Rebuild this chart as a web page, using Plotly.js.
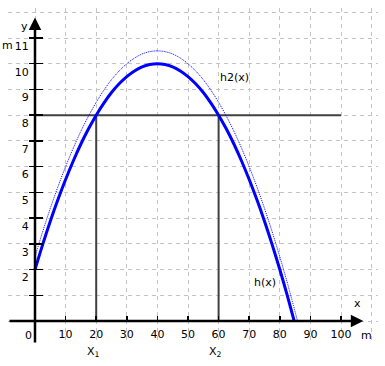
<!DOCTYPE html>
<html>
<head>
<meta charset="utf-8">
<script src="https://cdn.plot.ly/plotly-3.0.1.min.js"></script>
<style>html,body{margin:0;padding:0;background:#fff;}#chart{width:385px;height:366px;}</style>
</head>
<body>
<div id="chart"></div>
<script>
// ---- data ----
const hX  = [0, 2.5, 5, 7.5, 10, 12.5, 15, 17.5, 20, 22.5, 25, 27.5, 30, 32.5, 35, 37.5, 40,
             42.5, 45, 47.5, 50, 52.5, 55, 57.5, 60, 62.5, 65, 67.5, 70, 72.5, 75, 77.5, 80, 82.5, 84.7];
const hY  = [2, 2.97, 3.88, 4.72, 5.5, 6.22, 6.88, 7.47, 8, 8.47, 8.88, 9.22, 9.5, 9.72, 9.88, 9.97, 10,
             9.97, 9.88, 9.72, 9.5, 9.22, 8.88, 8.47, 8, 7.47, 6.88, 6.22, 5.5, 4.72, 3.88, 2.97, 2, 0.97, 0];
const h2X = [0, 2.5, 5, 7.5, 10, 12.5, 15, 17.5, 20, 22.5, 25, 27.5, 30, 32.5, 35, 37.5, 40,
             42.5, 45, 47.5, 50, 52.5, 55, 57.5, 60, 62.5, 65, 67.5, 70, 72.5, 75, 77.5, 80, 82.5, 85.8];
const h2Y = [2.5, 3.47, 4.38, 5.22, 6.0, 6.72, 7.38, 7.97, 8.5, 8.97, 9.38, 9.72, 10.0, 10.22, 10.38, 10.47, 10.5,
             10.47, 10.38, 10.22, 10.0, 9.72, 9.38, 8.97, 8.5, 7.97, 7.38, 6.72, 6.0, 5.22, 4.38, 3.47, 2.5, 1.47, 0];
const levelY = 8;          // horizontal level line
const levelXStart = 0;
const levelXEnd = 100;
const x1 = 20;             // X1
const x2 = 60;             // X2
const xTickVals = [10, 20, 30, 40, 50, 60, 70, 80, 90, 100];
const xTickText = ['10', '20', '30', '40', '50', '60', '70', '80', '90', '100'];
const yTickVals = [1, 2, 3, 4, 5, 6, 7, 8, 9, 10, 11];
const yTickText = ['', '2', '3', '4', '5', '6', '7', '8', '9', '10', '11'];

// ---- layout geometry ----
const W = 385, H = 366;
const M = {l: 8, r: 7, t: 8, b: 22};
const xRange = [-8.824, 112.09];
const yRange = [-0.894, 12.166];
const xAxisPos = (0 - yRange[0]) / (yRange[1] - yRange[0]);
const yAxisPos = (0 - xRange[0]) / (xRange[1] - xRange[0]);
const pw = W - M.l - M.r, ph = H - M.t - M.b;
const px = p => (p - M.l) / pw;       // pixel -> paper x
const py = p => (H - M.b - p) / ph;   // pixel -> paper y

const FONT = 'DejaVu Sans, Verdana, sans-serif';
const dark = '#404040';
const blue = '#0000ff';
const grid = '#c4c4c4';

const traces = [
  {x: [levelXStart, levelXEnd], y: [levelY, levelY], mode: 'lines', line: {color: dark, width: 2}, yaxis: 'y', hoverinfo: 'skip'},
  {x: [x1, x1], y: [0, levelY], mode: 'lines', line: {color: dark, width: 2}, yaxis: 'y', hoverinfo: 'skip'},
  {x: [x2, x2], y: [0, levelY], mode: 'lines', line: {color: dark, width: 2}, yaxis: 'y', hoverinfo: 'skip'},
  {x: h2X, y: h2Y, mode: 'lines', line: {color: blue, width: 1, dash: '1px,1px', shape: 'spline', smoothing: 0.8}, yaxis: 'y2', hoverinfo: 'skip'},
  {x: hX, y: hY, mode: 'lines', line: {color: blue, width: 3, shape: 'spline', smoothing: 0.8}, yaxis: 'y2', hoverinfo: 'skip'}
];

const gridMinor = {tickmode: 'linear', showgrid: true, gridcolor: grid, gridwidth: 1, griddash: '4px,4px', ticks: ''};

const lbl = (xp, yp, text) => ({x: px(xp), y: py(yp), xref: 'paper', yref: 'paper', text: text,
  showarrow: false, xanchor: 'center', yanchor: 'middle'});

const layout = {
  width: W, height: H,
  margin: M,
  paper_bgcolor: '#fff', plot_bgcolor: '#fff',
  showlegend: false,
  font: {family: FONT, size: 11, color: '#000'},
  xaxis: {
    range: xRange, anchor: 'free', position: xAxisPos,
    tickmode: 'array', tickvals: xTickVals, ticktext: xTickText,
    ticks: 'inside', ticklen: 5, tickwidth: 1.5, tickcolor: '#000',
    ticklabelstandoff: 5,
    showline: false, zeroline: false,
    showgrid: true, gridcolor: grid, gridwidth: 1, griddash: '4px,4px',
    minor: Object.assign({tick0: 0, dtick: 10}, gridMinor),
    tickfont: {family: FONT, size: 11, color: '#000'},
    automargin: false, fixedrange: true
  },
  yaxis: {
    range: yRange, anchor: 'free', position: yAxisPos,
    tickmode: 'array', tickvals: yTickVals, ticktext: yTickText,
    ticks: 'outside', ticklen: 6, tickwidth: 1.5, tickcolor: '#000',
    ticklabelshift: 8, ticklabelstandoff: -2,
    showline: false, zeroline: false,
    showgrid: true, gridcolor: grid, gridwidth: 1, griddash: '4px,4px',
    minor: Object.assign({tick0: 0, dtick: 1}, gridMinor),
    tickfont: {family: FONT, size: 11, color: '#000'},
    automargin: false, fixedrange: true
  },
  yaxis2: {
    range: yRange, anchor: 'free', position: yAxisPos, overlaying: 'y', side: 'left',
    tickmode: 'array', tickvals: yTickVals,
    ticks: 'inside', ticklen: 7, tickwidth: 1.5, tickcolor: '#000',
    showticklabels: false, showline: false, zeroline: false, showgrid: false,
    automargin: false, fixedrange: true
  },
  annotations: [
    // axis arrows
    {x: 107.3, y: 0, xref: 'x', yref: 'y', ax: xRange[0], ay: 0, axref: 'x', ayref: 'y',
     showarrow: true, arrowhead: 2, arrowsize: 1, arrowwidth: 2.5, arrowcolor: '#000', text: ''},
    {x: 0, y: 11.8, xref: 'x', yref: 'y', ax: 0, ay: yRange[0], axref: 'x', ayref: 'y',
     showarrow: true, arrowhead: 2, arrowsize: 1, arrowwidth: 2.5, arrowcolor: '#000', text: ''},
    // labels
    lbl(28.5, 335, '0'),
    lbl(7, 45, 'm'),
    lbl(24, 26, 'y'),
    lbl(357, 303, 'x'),
    lbl(366, 335, 'm'),
    lbl(234, 77, 'h2(x)'),
    lbl(265, 282, 'h(x)'),
    lbl(93.5, 352, 'X<sub>1</sub>'),
    lbl(215.5, 352, 'X<sub>2</sub>')
  ]
};

Plotly.newPlot('chart', traces, layout, {staticPlot: true, displayModeBar: false});
</script>
</body>
</html>
